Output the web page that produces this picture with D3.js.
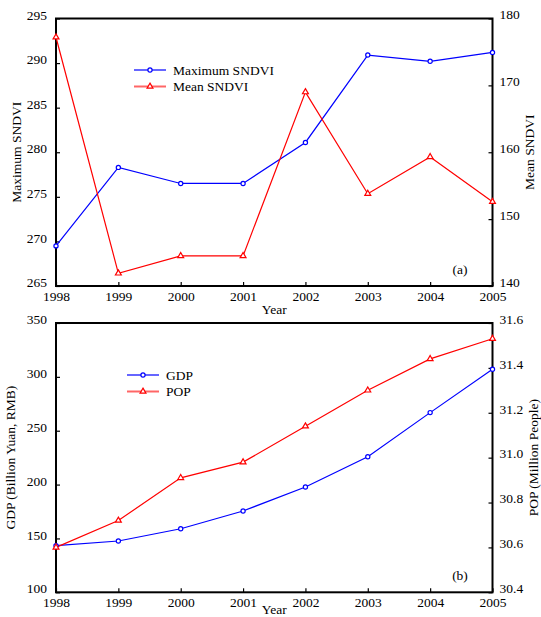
<!DOCTYPE html>
<html><head><meta charset="utf-8">
<script src="https://cdn.jsdelivr.net/npm/d3@7"></script>
<style>body{margin:0;background:#fff}svg text{font-family:"Liberation Serif","DejaVu Serif",serif !important;fill:#000}</style>
</head><body><svg id="c" width="541" height="617"></svg>
<script>
const years = [1998,1999,2000,2001,2002,2003,2004,2005];
const maxSNDVI = [269.5,278.3,276.5,276.5,281.1,290.9,290.2,291.2];
const meanSNDVI = [177.2,141.9,144.5,144.5,169.0,153.8,159.3,152.6];
const gdp = [143.3,147.6,159.0,175.5,197.8,225.9,266.8,307.0];
const pop = [30.60,30.72,30.91,30.98,31.14,31.30,31.44,31.53];
const ticksMax = [265,270,275,280,285,290,295];
const ticksMean = [140,150,160,170,180];
const ticksGDP = [100,150,200,250,300,350];
const ticksPOP = [30.4,30.6,30.8,31.0,31.2,31.4,31.6];

const FONT = "Liberation Serif";
const svg = d3.select("#c");
const L = 56, R = 492.5;
const x = d3.scaleLinear().domain([1998,2005]).range([L,R]);

function panel(o){
  const g = svg.append("g");
  const yl = d3.scaleLinear().domain(o.ld).range([o.b,o.t]);
  const yr = d3.scaleLinear().domain(o.rd).range([o.b,o.t]);
  const xa = g.append("g").attr("transform",`translate(0,${o.b})`)
    .call(d3.axisBottom(x).tickValues(years).tickFormat(d3.format("d")).tickSizeInner(-4).tickSizeOuter(0).tickPadding(5));
  const la = g.append("g").attr("transform",`translate(${L},0)`)
    .call(d3.axisLeft(yl).tickValues(o.lt).tickFormat(o.lf).tickSizeInner(-4).tickSizeOuter(0).tickPadding(9));
  const ra = g.append("g").attr("transform",`translate(${R},0)`)
    .call(d3.axisRight(yr).tickValues(o.rt).tickFormat(o.rf).tickSizeInner(-4).tickSizeOuter(0).tickPadding(7));
  [xa,la,ra].forEach(a=>{a.attr("font-family",FONT);a.select(".domain").remove();a.selectAll("line").attr("stroke","#000").attr("stroke-width",1.2);a.selectAll("text").attr("font-size",13.5);});
  la.selectAll("text").attr("dy","0.05em");
  ra.selectAll("text").attr("dy","0.02em");
  g.append("rect").attr("x",L).attr("y",o.t).attr("width",R-L).attr("height",o.b-o.t)
    .attr("fill","none").attr("stroke","#000").attr("stroke-width",2);
  const line1 = d3.line().x((d,i)=>x(years[i])).y(d=>yl(d));
  const line2 = d3.line().x((d,i)=>x(years[i])).y(d=>yr(d));
  g.append("path").attr("d",line1(o.s1)).attr("fill","none").attr("stroke","#0000ff").attr("stroke-width",1.2);
  g.append("path").attr("d",line2(o.s2)).attr("fill","none").attr("stroke","#ff0000").attr("stroke-width",1.2);
  g.selectAll(".c").data(o.s1).enter().append("circle").attr("cx",(d,i)=>x(years[i])).attr("cy",d=>yl(d))
    .attr("r",2.1).attr("fill","#fff").attr("stroke","#0000ff").attr("stroke-width",1.2);
  const tri = d3.symbol().type(d3.symbolTriangle).size(15);
  g.selectAll(".t").data(o.s2).enter().append("path").attr("d",tri)
    .attr("transform",(d,i)=>`translate(${x(years[i])},${yr(d)})`)
    .attr("fill","#fff").attr("stroke","#ff0000").attr("stroke-width",1.2);
  const T = (sel)=>sel.attr("font-family",FONT).attr("font-size",13.5);
  T(g.append("text").attr("x",(L+R)/2).attr("y",o.yy).attr("text-anchor","middle").text("Year"));
  T(g.append("text").attr("transform",`translate(${o.lx},${(o.t+o.b)/2}) rotate(-90)`).attr("text-anchor","middle").text(o.lTitle));
  T(g.append("text").attr("transform",`translate(${o.rx},${(o.t+o.b)/2}) rotate(-90)`).attr("text-anchor","middle").text(o.rTitle));
  T(g.append("text").attr("x",460).attr("y",o.b-12).attr("text-anchor","middle").text(o.tag));
  o.leg.forEach((d,i)=>{
    const yy = o.ly + i*16.5;
    g.append("line").attr("x1",o.lgx).attr("x2",o.lgx+32).attr("y1",yy).attr("y2",yy)
      .attr("stroke",d.c).attr("stroke-width",2).attr("stroke-opacity",0.6);
    if(d.m==="c") g.append("circle").attr("cx",o.lgx+16).attr("cy",yy).attr("r",2.1).attr("fill","#fff").attr("stroke",d.c).attr("stroke-width",1.2);
    else g.append("path").attr("d",tri).attr("transform",`translate(${o.lgx+16},${yy})`).attr("fill","#fff").attr("stroke",d.c).attr("stroke-width",1.2);
    T(g.append("text").attr("x",o.lgx+39).attr("y",yy+4.5).text(d.n));
  });
}

panel({t:18.5,b:286,ld:[265,295],rd:[140,180],lt:ticksMax,rt:ticksMean,lf:d3.format("d"),rf:d3.format("d"),
  s1:maxSNDVI,s2:meanSNDVI,lTitle:"Maximum SNDVI",rTitle:"Mean SNDVI",lx:21,rx:534,tag:"(a)",yy:314,
  lgx:134,ly:70,leg:[{n:"Maximum SNDVI",c:"#0000ff",m:"c"},{n:"Mean SNDVI",c:"#ff0000",m:"t"}]});
panel({t:323,b:592.3,ld:[100,350],rd:[30.4,31.6],lt:ticksGDP,rt:ticksPOP,lf:d3.format("d"),rf:d3.format(".1f"),
  s1:gdp,s2:pop,lTitle:"GDP (Billion Yuan, RMB)",rTitle:"POP (Million People)",lx:15,rx:538,tag:"(b)",yy:614,
  lgx:127,ly:375,leg:[{n:"GDP",c:"#0000ff",m:"c"},{n:"POP",c:"#ff0000",m:"t"}]});
</script></body></html>
